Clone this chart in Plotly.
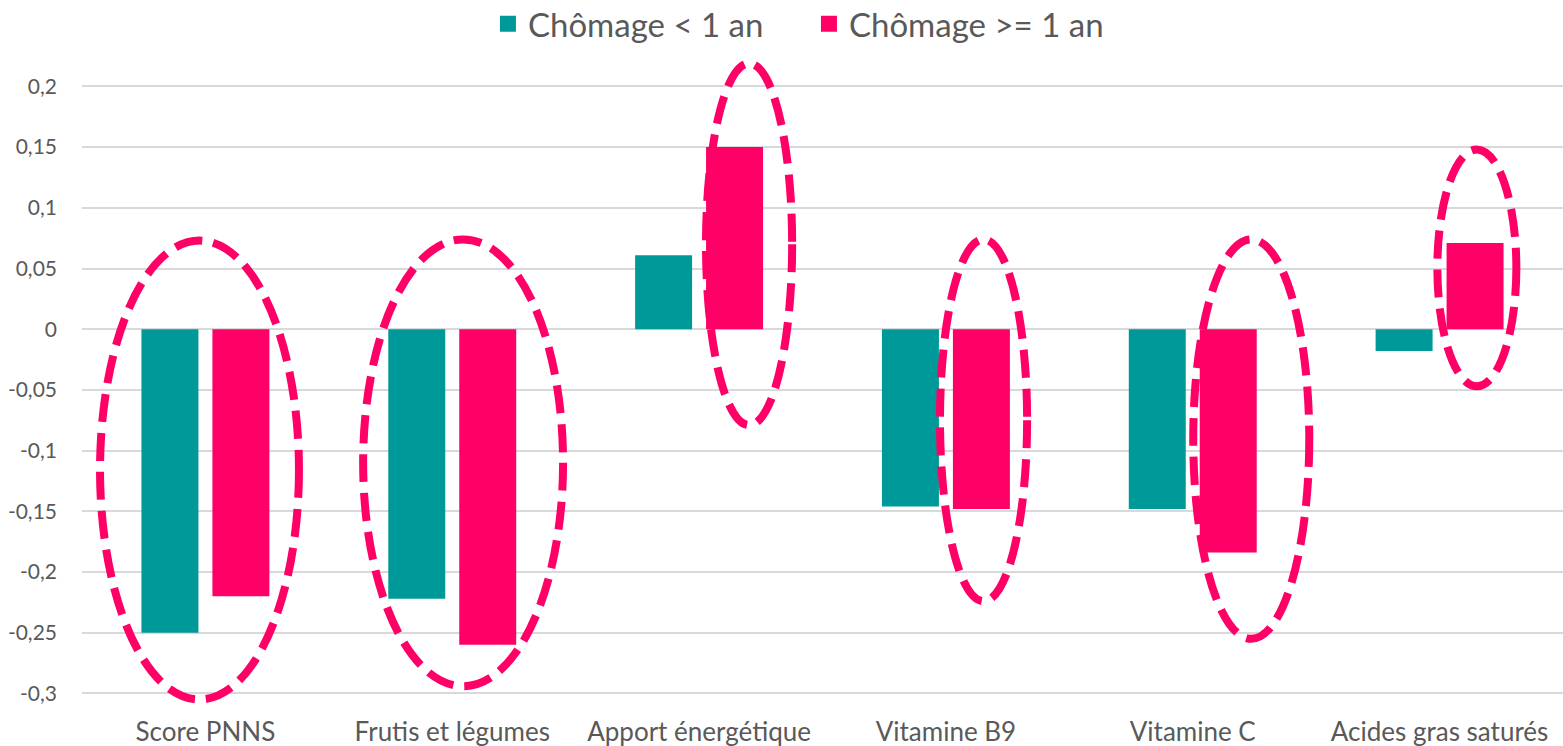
import plotly.graph_objects as go

categories = ["Score PNNS", "Frutis et légumes", "Apport énergétique",
              "Vitamine B9", "Vitamine C", "Acides gras saturés"]
series_names = ["Chômage < 1 an", "Chômage >= 1 an"]
vals_short = [-0.25, -0.222, 0.061, -0.146, -0.148, -0.018]
vals_long = [-0.22, -0.26, 0.15, -0.148, -0.184, 0.071]
tick_vals = [-0.3, -0.25, -0.2, -0.15, -0.1, -0.05, 0, 0.05, 0.1, 0.15, 0.2]
tick_text = ["-0,3", "-0,25", "-0,2", "-0,15", "-0,1", "-0,05", "0", "0,05", "0,1", "0,15", "0,2"]

# highlight ellipses (category-axis coordinates, value-axis coordinates)
ell_x0 = [-0.427, 0.639, 2.028, 2.976, 4.002, 4.991]
ell_x1 = [0.379, 1.449, 2.377, 3.329, 4.472, 5.311]
ell_y0 = [-0.305, -0.294, -0.079, -0.224, -0.255, -0.047]
ell_y1 = [0.073, 0.074, 0.219, 0.074, 0.074, 0.148]

TEAL = "#009999"
PINK = "#FF0066"
GREY = "#595959"
FONT = "Lato"
colors = [TEAL, PINK]

fig = go.Figure()
fig.add_trace(go.Bar(x=categories, y=vals_short, name=series_names[0], showlegend=False,
                     marker=dict(color=TEAL, line=dict(width=0))))
fig.add_trace(go.Bar(x=categories, y=vals_long, name=series_names[1], showlegend=False,
                     marker=dict(color=PINK, line=dict(width=0))))
# legend entries with larger square swatches
for nm, col in zip(series_names, colors):
    fig.add_trace(go.Scatter(x=[None], y=[None], mode="markers", name=nm,
                             marker=dict(symbol="square", size=22, color=col)))

for a, b, c, d in zip(ell_x0, ell_x1, ell_y0, ell_y1):
    fig.add_shape(type="circle", xref="x", yref="y", x0=a, x1=b, y0=c, y1=d,
                  line=dict(color=PINK, width=8, dash="28px,11px"),
                  fillcolor="rgba(0,0,0,0)", layer="above")

fig.update_layout(
    width=1563, height=746,
    paper_bgcolor="white", plot_bgcolor="white",
    barmode="group", bargap=0.425, bargroupgap=0.197,
    margin=dict(l=82, r=0, t=50, b=38, autoexpand=False),
    font=dict(family=FONT, color=GREY),
    showlegend=True,
    legend=dict(orientation="h", x=0.2741, xanchor="left", y=0.968, yref="container",
                yanchor="middle", entrywidth=276, entrywidthmode="pixels",
                font=dict(size=33, color=GREY, family=FONT), itemsizing="trace",
                bgcolor="rgba(0,0,0,0)"),
    xaxis=dict(type="category", showgrid=False, zeroline=False, showline=False,
               ticks="outside", ticklen=1, tickcolor="white",
               tickfont=dict(size=26, color=GREY, family=FONT)),
    yaxis=dict(range=[-0.312, 0.23], tickvals=tick_vals, ticktext=tick_text,
               showgrid=True, gridcolor="#D9D9D9", gridwidth=2,
               zeroline=False, showline=False, ticks="", ticklabelstandoff=24,
               tickfont=dict(size=21, color=GREY, family=FONT)),
)

fig.write_html("out.html", config={"displayModeBar": False},
               post_script="document.body.style.margin='0';document.body.style.overflow='hidden';")
